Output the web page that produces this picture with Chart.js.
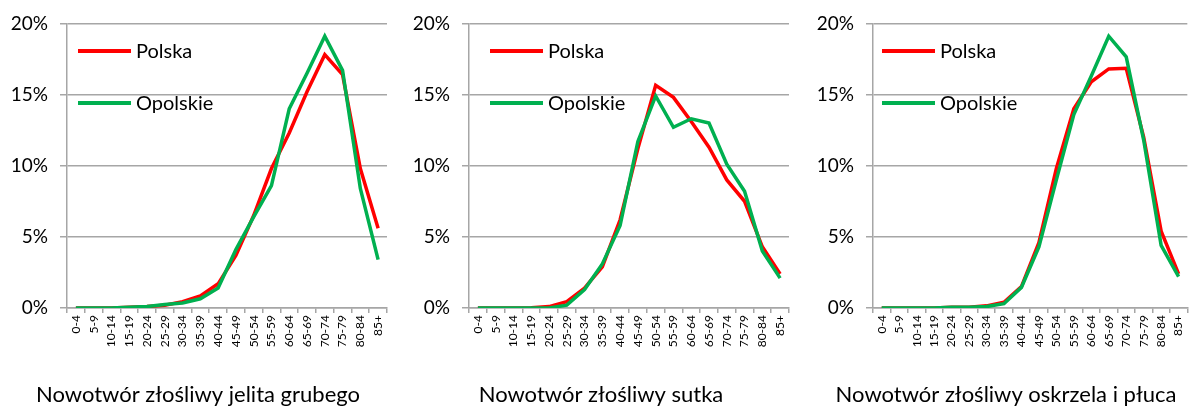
<!DOCTYPE html>
<html>
<head>
<meta charset="utf-8">
<script src="https://cdn.jsdelivr.net/npm/chart.js@4/dist/chart.umd.min.js"></script>
<style>
  body { margin: 0; background: #fff; }
  .row { display: flex; width: 1195px; height: 408px; }
  .box { position: relative; height: 408px; }
</style>
</head>
<body>
<div class="row">
  <div class="box" style="width:398px"><canvas id="c1"></canvas></div>
  <div class="box" style="width:399px"><canvas id="c2"></canvas></div>
  <div class="box" style="width:398px"><canvas id="c3"></canvas></div>
</div>
<script>
const ageGroups = ['0-4', '5-9', '10-14', '15-19', '20-24', '25-29', '30-34', '35-39', '40-44',
    '45-49', '50-54', '55-59', '60-64', '65-69', '70-74', '75-79', '80-84', '85+'];
const yTicks = [0, 5, 10, 15, 20];

const titles = ['Nowotwór złośliwy jelita grubego', 'Nowotwór złośliwy sutka', 'Nowotwór złośliwy oskrzela i płuca'];

// percent of cases per age group
const jelitoPolska   = [0, 0, 0, 0.05, 0.1, 0.2, 0.45, 0.85, 1.7, 3.7, 6.5, 9.8, 12.3, 15.2, 17.8, 16.4, 9.8, 5.6];
const jelitoOpolskie = [0, 0, 0, 0.05, 0.1, 0.25, 0.35, 0.65, 1.4, 4.1, 6.4, 8.6, 14.0, 16.5, 19.1, 16.7, 8.4, 3.4];
const sutekPolska    = [0, 0, 0, 0.02, 0.1, 0.45, 1.4, 2.9, 6.2, 11.2, 15.65, 14.8, 13.1, 11.3, 9.0, 7.5, 4.3, 2.4];
const sutekOpolskie  = [0, 0, 0, 0, 0, 0.2, 1.3, 3.1, 5.8, 11.7, 14.9, 12.7, 13.3, 13.0, 10.1, 8.2, 4.0, 2.1];
const plucaPolska    = [0, 0, 0, 0, 0.05, 0.05, 0.15, 0.4, 1.5, 4.6, 9.8, 14.0, 15.9, 16.8, 16.85, 12.0, 5.4, 2.4];
const plucaOpolskie  = [0, 0, 0, 0, 0.05, 0.05, 0.1, 0.3, 1.45, 4.3, 9.0, 13.6, 16.3, 19.1, 17.65, 11.8, 4.4, 2.2];

const RED = '#ff0000';
const GREEN = '#00b050';
const GRID = '#a6a6a6';
const FONT = 'Lato, "Open Sans", sans-serif';

const legendAndTitle = {
    id: 'legendAndTitle',
    afterDraw(chart, args, opts) {
        const ctx = chart.ctx;
        ctx.save();
        ctx.lineWidth = 4;
        ctx.font = '20px ' + FONT;
        ctx.textBaseline = 'middle';
        chart.data.datasets.slice().reverse().forEach((ds, i) => {
            const y = opts.legendY[i];
            ctx.strokeStyle = ds.borderColor;
            ctx.beginPath();
            ctx.moveTo(opts.legendX, y);
            ctx.lineTo(opts.legendX + 53, y);
            ctx.stroke();
            ctx.fillStyle = '#000';
            ctx.fillText(ds.label, opts.legendX + 58, y + 1);
        });
        ctx.textAlign = 'center';
        ctx.font = '22px ' + FONT;
        ctx.fillText(opts.title, opts.titleX, 395);
        ctx.restore();
    }
};

const makeChart = (id, polska, opolskie, title, layout) => {
    new Chart(document.getElementById(id), {
        type: 'line',
        data: {
            labels: ageGroups,
            datasets: [{
                label: 'Opolskie',
                data: opolskie,
                borderColor: GREEN,
                borderWidth: 3.5,
                order: 0
            }, {
                label: 'Polska',
                data: polska,
                borderColor: RED,
                borderWidth: 3.5,
                order: 1
            }]
        },
        options: {
            responsive: true,
            maintainAspectRatio: false,
            animation: false,
            elements: {
                point: { radius: 0 },
                line: { tension: 0, borderJoinStyle: 'miter' }
            },
            layout: { padding: { left: 0, right: layout.right, top: 19, bottom: 0 } },
            plugins: {
                legend: { display: false },
                tooltip: { enabled: false },
                legendAndTitle: {
                    legendX: layout.legendX,
                    legendY: [51, 103],
                    title: title,
                    titleX: layout.titleX
                }
            },
            scales: {
                x: {
                    offset: true,
                    afterFit: (s) => { s.height = 100; },
                    grid: { offset: true, drawOnChartArea: false, color: GRID, tickLength: 5, lineWidth: 1.5 },
                    border: { color: GRID, width: 1.5 },
                    ticks: {
                        minRotation: 90, maxRotation: 90, autoSkip: false, padding: 2,
                        color: '#000', font: { family: FONT, size: 12 }
                    }
                },
                y: {
                    min: 0,
                    max: 20,
                    afterFit: (s) => { s.width = layout.axisX; },
                    afterBuildTicks: (s) => { s.ticks = yTicks.map(v => ({ value: v })); },
                    grid: { color: GRID, tickLength: 7, lineWidth: 1.5 },
                    border: { color: GRID, width: 1.5 },
                    ticks: {
                        padding: 12,
                        color: '#000',
                        font: { family: FONT, size: 19 },
                        callback: (v) => v + '%'
                    }
                }
            }
        },
        plugins: [legendAndTitle]
    });
};

makeChart('c1', jelitoPolska, jelitoOpolskie, titles[0], { axisX: 67, right: 11, legendX: 78, titleX: 198 });
makeChart('c2', sutekPolska, sutekOpolskie, titles[1], { axisX: 71, right: 8, legendX: 92, titleX: 203 });
makeChart('c3', plucaPolska, plucaOpolskie, titles[2], { axisX: 76, right: 0, legendX: 85, titleX: 209 });
</script>
</body>
</html>
